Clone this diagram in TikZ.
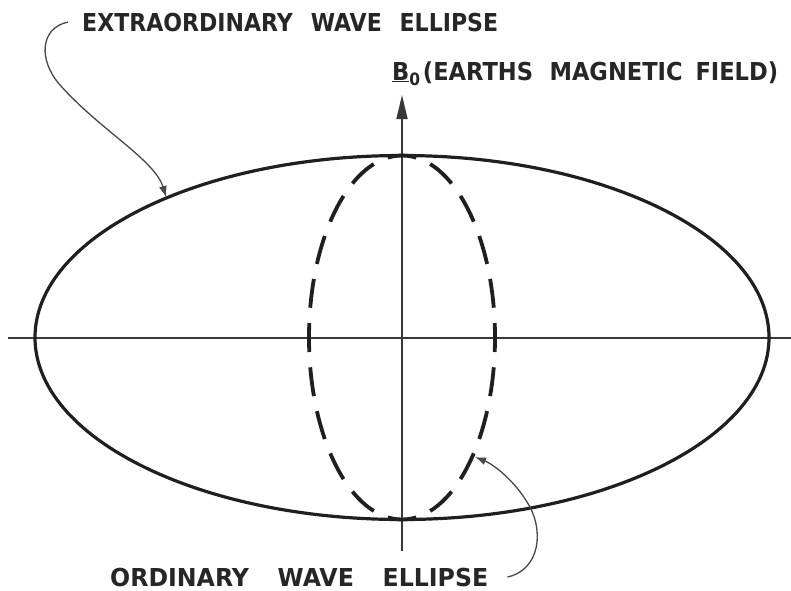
\documentclass[tikz,border=0pt]{standalone}
\usepackage{fontspec}
\setmainfont{DejaVu Sans}
\usepackage{graphicx}
\usetikzlibrary{arrows.meta}
\begin{document}
\begin{tikzpicture}[x=1pt,y=-1pt,
  lbl/.style={inner sep=0pt, anchor=base west, font=\fontsize{24.7}{26}\selectfont\bfseries, text=black!85},
  axisline/.style={line width=1.7pt, draw=black!78},
  xell/.style={line width=3.2pt, draw=black!88},
  oell/.style={line width=3.8pt, draw=black!88, dash pattern=on 29pt off 15.34pt, dash phase=14.5pt},
  leader/.style={line width=1.3pt, draw=black!72, -{Latex[length=11pt,width=8pt]}}]
\useasboundingbox (0,0) rectangle (791,590);
% axes
\coordinate (hl) at (8,338);
\coordinate (hr) at (791,338);
\coordinate (vb) at (402,551);
\coordinate (vt) at (402,95);
\draw[axisline] (hl) -- (hr);
\draw[axisline, -{Triangle[length=24pt,width=11pt]}] (vb) -- (vt);
% ellipses
\coordinate (c) at (402,337.5);
\draw[xell] (c) ellipse [x radius=367pt, y radius=182pt];
\draw[oell] (c) ellipse [x radius=93pt, y radius=182pt];
% labels
\node[lbl] (xlab) at (82,31) {\resizebox{416pt}{\height}{EXTRAORDINARY\hspace{20pt}WAVE\hspace{20pt}ELLIPSE}};
\node[lbl] (blab) at (392,80) {\resizebox{386pt}{\height}{\underline{B}\raisebox{-5pt}{\fontsize{17}{17}\selectfont 0}\hspace{3pt}(EARTHS\hspace{18pt}MAGNETIC\hspace{14pt}FIELD)}};
\node[lbl] (olab) at (110,586) {\resizebox{378pt}{\height}{ORDINARY\hspace{30pt}WAVE\hspace{30pt}ELLIPSE}};
% leaders
\coordinate (xtip) at (166,197);
\coordinate (otip) at (475,457);
\draw[leader] ([xshift=-14pt]xlab.west) .. controls (40,28) and (38,60) .. (60,85) .. controls (100,130) and (155,160) .. (xtip);
\draw[leader] ([xshift=19pt]olab.east) .. controls (540,570) and (545,530) .. (527,502) .. controls (515,482) and (495,465) .. (otip);
\end{tikzpicture}
\end{document}
